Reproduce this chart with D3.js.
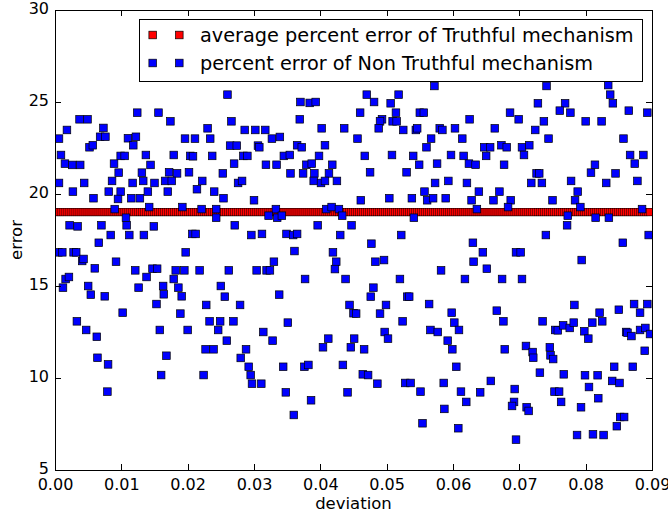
<!DOCTYPE html>
<html>
<head>
<meta charset="utf-8">
<script src="https://cdn.jsdelivr.net/npm/d3@7"></script>
<style>
  body { margin: 0; background: #fff; }
  svg { display: block; }
  text { font-family: "DejaVu Sans", "Liberation Sans", sans-serif; }
</style>
</head>
<body>
<svg id="chart" width="668" height="515"></svg>
<script>
// Axis ticks
const xTicks = [0, 0.01, 0.02, 0.03, 0.04, 0.05, 0.06, 0.07, 0.08, 0.09];
const yTicks = [5, 10, 15, 20, 25, 30];

// Series labels
const seriesNames = [
  "average percent error of Truthful mechanism",
  "percent error of Non Truthful mechanism"
];

// Truthful mechanism: average percent error at every deviation step
const averageTruthfulError = 19.02;
const truthfulDeviation = d3.range(300).map(i => +(i * 0.0003).toFixed(4));

// Non truthful mechanism: [deviation, percent error]
const nonTruthfulPoints = [
  [0.0124,24.42],[0.0156,24.42],[0.0037,24.06],[0.0049,24.06],[0.0174,23.95],[0.0018,23.48],[0.0073,23.59],[0.0006,23.01],
  [0.0068,23.11],[0.0076,23.11],[0.0110,23.03],[0.0122,23.11],[0.0196,23.01],[0.0211,23.01],[0.0052,22.54],[0.0057,22.65],
  [0.0118,22.65],[0.0009,22.12],[0.0099,22.07],[0.0105,22.07],[0.0137,22.12],[0.0179,22.12],[0.0204,22.07],[0.0208,22.05],
  [0.0015,21.65],[0.0026,21.58],[0.0038,21.58],[0.0089,21.65],[0.0144,21.58],[0.0096,21.16],[0.0131,21.16],[0.0172,21.18],
  [0.0184,21.12],[0.0202,21.18],[0.0006,20.60],[0.0044,20.60],[0.0086,20.71],[0.0117,20.60],[0.0133,20.71],[0.0150,20.60],
  [0.0166,20.71],[0.0176,20.71],[0.0222,20.71],[0.0027,20.13],[0.0081,20.13],[0.0099,20.13],[0.0140,20.13],[0.0170,20.13],
  [0.0214,20.26],[0.0058,19.77],[0.0095,19.73],[0.0115,19.77],[0.0128,19.77],[0.0090,19.18],[0.0142,19.29],[0.0192,19.29],
  [0.0221,19.18],[0.0107,18.71],[0.0108,18.30],[0.0022,18.30],[0.0034,18.24],[0.0070,18.30],[0.0149,18.24],[0.0084,17.77],
  [0.0112,17.77],[0.0134,17.77],[0.0207,17.83],[0.0212,17.83],[0.0066,17.35],[0.0005,16.83],[0.0011,16.83],[0.0028,16.83],
  [0.0032,16.83],[0.0197,16.83],
  [0.0041,16.36],[0.0043,16.47],[0.0092,16.32],[0.0060,15.96],[0.0121,15.85],[0.0147,15.94],[0.0154,15.94],[0.0182,15.85],
  [0.0195,15.85],[0.0218,15.85],[0.0138,15.49],[0.0179,15.38],[0.0016,15.38],[0.0021,15.49],[0.0012,14.91],[0.0050,15.00],
  [0.0126,14.91],[0.0163,15.00],[0.0186,14.91],[0.0054,14.53],[0.0075,14.44],[0.0164,14.55],[0.0191,14.44],[0.0153,14.02],
  [0.0102,13.55],[0.0189,13.50],[0.0033,13.08],[0.0047,12.61],[0.0158,12.61],[0.0200,12.61],[0.0063,12.24],[0.0168,11.21],
  [0.0064,11.10],[0.0080,10.74],[0.0160,10.16],[0.0079,9.26],
  [0.0260,25.40],[0.0370,25.00],[0.0384,24.95],[0.0393,25.00],[0.0266,23.95],[0.0369,24.06],[0.0230,23.57],[0.0286,23.48],
  [0.0302,23.48],[0.0317,23.48],[0.0402,23.57],[0.0436,23.57],[0.0234,23.01],[0.0327,23.01],[0.0339,23.10],[0.0264,22.63],
  [0.0274,22.63],[0.0306,22.63],[0.0308,22.54],[0.0365,22.65],[0.0372,22.54],[0.0407,22.65],[0.0237,22.07],[0.0284,22.07],
  [0.0290,22.07],[0.0345,22.07],[0.0354,22.12],[0.0398,22.07],[0.0270,21.65],[0.0318,21.59],[0.0334,21.59],[0.0379,21.59],
  [0.0387,21.65],[0.0418,21.59],[0.0253,21.12],[0.0355,21.12],[0.0374,21.12],[0.0391,21.12],[0.0413,21.12],[0.0276,20.60],
  [0.0282,20.71],[0.0390,20.71],[0.0401,20.60],[0.0407,20.71],[0.0425,20.71],[0.0240,20.13],[0.0254,19.77],[0.0300,19.66],
  [0.0243,19.18],[0.0243,18.71],[0.0333,19.18],[0.0322,18.82],[0.0335,18.71],[0.0342,18.82],[0.0409,19.18],[0.0417,19.29],
  [0.0428,19.18],[0.0433,18.82],[0.0447,18.30],[0.0271,18.30],[0.0396,18.30],[0.0296,17.77],[0.0312,17.83],[0.0349,17.83],
  [0.0359,17.77],[0.0365,17.83],[0.0430,17.77],[0.0361,16.90],[0.0419,16.83],
  [0.0330,16.32],[0.0424,16.32],[0.0422,15.92],[0.0262,15.85],[0.0304,15.85],[0.0319,15.85],[0.0324,15.85],[0.0377,15.38],
  [0.0438,15.38],[0.0250,15.00],[0.0256,14.42],[0.0338,14.53],[0.0228,13.97],[0.0279,13.97],[0.0444,13.97],[0.0233,13.08],
  [0.0249,13.08],[0.0269,13.08],[0.0351,13.01],[0.0246,12.61],[0.0314,12.50],[0.0259,12.03],[0.0328,12.03],[0.0412,12.14],
  [0.0404,11.67],[0.0446,11.67],[0.0227,11.56],[0.0239,11.56],[0.0288,11.56],[0.0280,11.09],[0.0292,10.61],[0.0344,10.61],
  [0.0376,10.61],[0.0382,10.71],[0.0434,10.71],[0.0224,10.16],[0.0295,10.16],[0.0297,9.69],[0.0311,9.69],[0.0348,9.22],
  [0.0441,9.22],[0.0386,8.79],[0.0360,7.99],
  [0.0572,25.87],[0.0470,25.40],[0.0518,25.40],[0.0481,25.00],[0.0506,24.93],[0.0460,24.42],[0.0514,24.42],[0.0550,24.42],
  [0.0556,24.42],[0.0493,24.06],[0.0490,23.95],[0.0509,23.95],[0.0515,23.95],[0.0625,24.06],[0.0488,23.57],[0.0525,23.48],
  [0.0544,23.48],[0.0546,23.57],[0.0580,23.57],[0.0584,23.48],[0.0603,23.57],[0.0663,23.57],[0.0456,23.01],[0.0567,23.01],
  [0.0614,23.01],[0.0560,22.54],[0.0647,22.54],[0.0656,22.54],[0.0467,22.07],[0.0508,22.12],[0.0540,22.07],[0.0597,22.12],
  [0.0616,22.07],[0.0650,22.07],[0.0549,21.59],[0.0576,21.65],[0.0624,21.65],[0.0634,21.59],[0.0475,21.18],[0.0530,21.18],
  [0.0573,20.60],[0.0593,20.71],[0.0621,20.60],[0.0557,20.13],[0.0639,20.13],[0.0670,20.13],[0.0461,19.66],[0.0504,19.77],
  [0.0538,19.77],[0.0561,19.66],[0.0570,19.77],[0.0589,19.77],[0.0628,19.66],[0.0661,19.66],[0.0636,19.18],[0.0541,18.71],
  [0.0522,17.77],[0.0477,17.30],[0.0630,17.35],[0.0645,16.83],
  [0.0483,16.32],[0.0496,16.41],[0.0631,16.32],[0.0651,15.94],[0.0582,15.85],[0.0520,15.38],[0.0618,15.38],[0.0480,14.91],
  [0.0476,14.42],[0.0531,14.42],[0.0534,14.42],[0.0564,14.02],[0.0499,13.97],[0.0450,13.52],[0.0454,13.50],[0.0490,13.50],
  [0.0598,13.55],[0.0666,13.66],[0.0524,13.08],[0.0602,13.01],[0.0497,12.50],[0.0502,12.14],[0.0566,12.61],[0.0577,12.50],
  [0.0609,12.61],[0.0451,12.14],[0.0466,11.56],[0.0592,12.03],[0.0599,11.56],[0.0605,10.61],[0.0464,10.20],[0.0472,10.16],
  [0.0486,9.69],[0.0528,9.73],[0.0536,9.73],[0.0586,9.73],[0.0657,9.84],[0.0551,9.26],[0.0612,9.26],[0.0641,9.22],
  [0.0620,8.70],[0.0587,8.32],[0.0554,7.54],[0.0608,7.27],
  [0.0741,25.87],[0.0834,25.92],[0.0837,25.40],[0.0841,24.93],[0.0728,24.93],[0.0769,24.93],[0.0761,24.53],[0.0777,24.42],
  [0.0686,24.42],[0.0699,24.06],[0.0737,23.95],[0.0865,24.53],[0.0893,24.42],[0.0800,23.95],[0.0824,23.95],[0.0724,23.48],
  [0.0744,23.01],[0.0857,23.01],[0.0673,22.65],[0.0681,22.54],[0.0704,22.54],[0.0715,22.65],[0.0707,22.12],[0.0867,22.12],
  [0.0887,22.12],[0.0874,21.65],[0.0677,21.59],[0.0814,21.59],[0.0808,21.16],[0.0845,21.12],[0.0726,21.12],[0.0730,21.12],
  [0.0718,20.60],[0.0734,20.60],[0.0778,20.71],[0.0831,20.60],[0.0878,20.71],[0.0788,20.13],[0.0687,19.66],[0.0750,19.66],
  [0.0784,19.66],[0.0683,19.29],[0.0792,19.29],[0.0885,19.18],[0.0773,18.82],[0.0772,18.30],[0.0815,18.71],[0.0835,18.71],
  [0.0740,17.77],[0.0856,17.35],[0.0895,17.77],[0.0695,16.83],[0.0702,16.83],
  [0.0794,16.41],[0.0674,15.38],[0.0704,15.38],[0.0783,13.97],[0.0850,13.71],[0.0873,14.02],[0.0882,13.55],[0.0893,14.02],
  [0.0676,13.08],[0.0735,13.08],[0.0821,13.55],[0.0810,13.01],[0.0825,13.08],[0.0754,12.61],[0.0758,12.59],[0.0766,12.86],
  [0.0776,12.72],[0.0782,13.01],[0.0798,12.54],[0.0804,12.14],[0.0861,12.50],[0.0863,12.46],[0.0869,12.28],[0.0882,12.61],
  [0.0890,12.72],[0.0897,12.39],[0.0678,11.56],[0.0710,11.74],[0.0720,11.41],[0.0721,11.10],[0.0746,11.67],[0.0747,11.23],
  [0.0751,11.03],[0.0889,11.48],[0.0843,10.61],[0.0871,10.61],[0.0731,10.29],[0.0767,10.20],[0.0799,10.15],[0.0818,10.15],
  [0.0840,9.84],[0.0851,9.73],[0.0693,9.40],[0.0805,9.51],[0.0753,9.26],[0.0760,9.26],[0.0692,8.70],[0.0689,8.48],
  [0.0711,8.41],[0.0714,8.21],[0.0763,8.70],[0.0819,8.90],[0.0793,8.41],[0.0852,7.88],[0.0858,7.88],[0.0847,7.38],
  [0.0787,6.90],[0.0811,6.94],[0.0827,6.90],[0.0695,6.65]
];

const width = 668, height = 515;
const margin = { top: 10, right: 16, bottom: 45, left: 55 };

const svg = d3.select("#chart");
svg.append("rect").attr("width", width).attr("height", height).attr("fill", "#fff");

const x = d3.scaleLinear().domain([0, 0.09]).range([margin.left, width - margin.right]);
const y = d3.scaleLinear().domain([5, 30]).range([height - margin.bottom, margin.top]);

const markerSize = 7.6;
const markerStroke = 0.7;

svg.append("clipPath").attr("id", "plot-clip")
  .append("rect")
  .attr("x", margin.left).attr("y", margin.top)
  .attr("width", width - margin.left - margin.right)
  .attr("height", height - margin.top - margin.bottom);

const plot = svg.append("g").attr("clip-path", "url(#plot-clip)");

// Truthful mechanism markers
plot.append("g").selectAll("rect")
  .data(truthfulDeviation)
  .join("rect")
  .attr("x", d => x(d) - markerSize / 2)
  .attr("y", y(averageTruthfulError) - markerSize / 2)
  .attr("width", markerSize).attr("height", markerSize)
  .attr("fill", "#ff0000")
  .attr("stroke", "#000").attr("stroke-width", 0.45);

// Non truthful mechanism markers
plot.append("g").selectAll("rect")
  .data(nonTruthfulPoints)
  .join("rect")
  .attr("x", d => x(d[0]) - markerSize / 2)
  .attr("y", d => y(d[1]) - markerSize / 2)
  .attr("width", markerSize).attr("height", markerSize)
  .attr("fill", "#0000ff")
  .attr("stroke", "#000").attr("stroke-width", markerStroke);

// Axes with inward ticks on all four sides
const tickFont = 16;
function styleAxis(g) {
  g.select(".domain").remove();
  g.selectAll(".tick line").attr("stroke", "#000").attr("stroke-width", 1).attr("shape-rendering", "crispEdges");
  g.selectAll(".tick text").attr("fill", "#000")
    .style("font-family", '"DejaVu Sans", sans-serif').style("font-size", tickFont + "px");
}

svg.append("g")
  .attr("transform", `translate(0,${height - margin.bottom})`)
  .call(d3.axisBottom(x).tickValues(xTicks).tickFormat(d3.format(".2f")).tickSize(-6).tickPadding(9))
  .call(styleAxis);

svg.append("g")
  .attr("transform", `translate(0,${margin.top})`)
  .call(d3.axisTop(x).tickValues(xTicks).tickFormat("").tickSize(-6))
  .call(styleAxis);

svg.append("g")
  .attr("transform", `translate(${margin.left},0)`)
  .call(d3.axisLeft(y).tickValues(yTicks).tickFormat(d3.format("d")).tickSize(-6).tickPadding(6))
  .call(styleAxis)
  .call(g => g.selectAll(".tick text").attr("dy", "0.22em"));

svg.append("g")
  .attr("transform", `translate(${width - margin.right},0)`)
  .call(d3.axisRight(y).tickValues(yTicks).tickFormat("").tickSize(-6))
  .call(styleAxis);

// Frame
svg.append("rect")
  .attr("x", margin.left).attr("y", margin.top)
  .attr("width", width - margin.left - margin.right)
  .attr("height", height - margin.top - margin.bottom)
  .attr("fill", "none").attr("stroke", "#000").attr("stroke-width", 1)
  .attr("shape-rendering", "crispEdges");

// Axis titles
svg.append("text")
  .attr("x", (margin.left + width - margin.right) / 2)
  .attr("y", 509)
  .attr("text-anchor", "middle")
  .style("font-size", "16.5px")
  .text("deviation");

svg.append("text")
  .attr("transform", `translate(22,${(margin.top + height - margin.bottom) / 2}) rotate(-90)`)
  .attr("text-anchor", "middle")
  .style("font-size", "16.5px")
  .text("error");

// Legend
const legend = svg.append("g");
legend.append("rect")
  .attr("x", 139).attr("y", 19).attr("width", 503).attr("height", 62)
  .attr("fill", "#fff").attr("stroke", "#000").attr("stroke-width", 1)
  .attr("shape-rendering", "crispEdges");

const legendColors = ["#ff0000", "#0000ff"];
seriesNames.forEach((name, i) => {
  const cy = 35 + i * 28;
  [152.7, 179.3].forEach(cx => {
    legend.append("rect")
      .attr("x", cx - markerSize / 2).attr("y", cy - markerSize / 2)
      .attr("width", markerSize).attr("height", markerSize)
      .attr("fill", legendColors[i])
      .attr("stroke", "#000").attr("stroke-width", markerStroke);
  });
  legend.append("text")
    .attr("x", 200).attr("y", cy).attr("dy", "0.36em")
    .style("font-size", "19.3px")
    .text(name);
});
</script>
</body>
</html>
